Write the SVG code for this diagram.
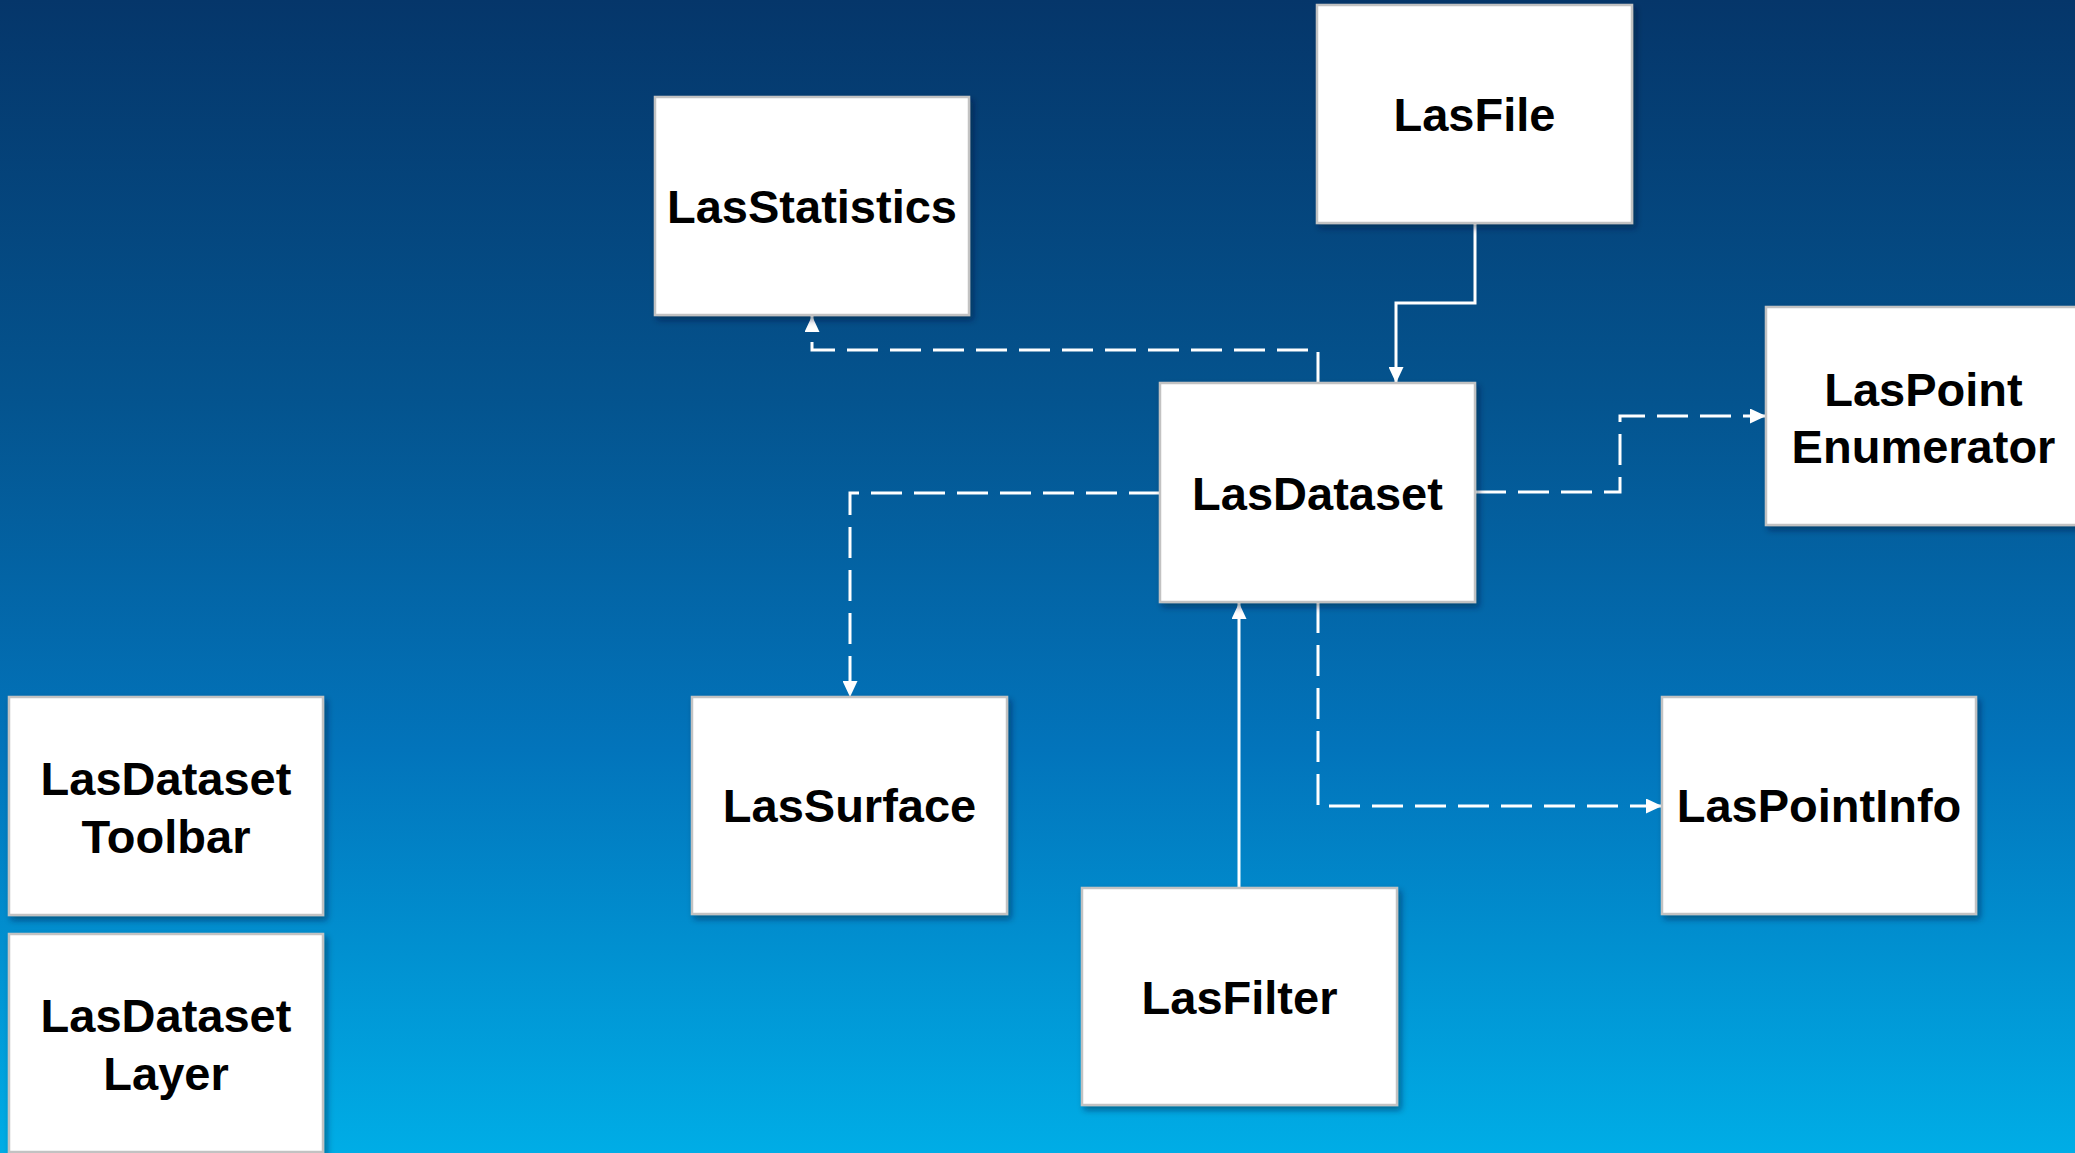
<svg xmlns="http://www.w3.org/2000/svg" width="2075" height="1153" viewBox="0 0 2075 1153">
  <defs>
    <linearGradient id="bg" x1="0" y1="0" x2="0" y2="1">
      <stop offset="0" stop-color="#05366a"/>
      <stop offset="0.35" stop-color="#04548f"/>
      <stop offset="0.65" stop-color="#0274bb"/>
      <stop offset="1" stop-color="#00ade6"/>
    </linearGradient>
    <filter id="shadow" x="-10%" y="-10%" width="125%" height="125%">
      <feDropShadow dx="3" dy="4" stdDeviation="3" flood-color="#001a33" flood-opacity="0.45"/>
    </filter>
    <marker id="arrow" markerUnits="userSpaceOnUse" markerWidth="16" markerHeight="15" refX="16" refY="7.5" orient="auto">
      <path d="M0,0 L16,7.5 L0,15 Z" fill="#ffffff"/>
    </marker>
  </defs>
  <style>
    .box { fill: #ffffff; stroke: #c2c2c2; stroke-width: 2.5; filter: url(#shadow); }
    .label { font-family: "Liberation Sans", Arial, sans-serif; font-weight: bold; font-size: 47px; fill: #000000; text-anchor: middle; }
    .link { fill: none; stroke: #ffffff; stroke-width: 3; marker-end: url(#arrow); }
    .dashed { stroke-dasharray: 31 12; }
  </style>

  <rect x="0" y="0" width="2075" height="1153" fill="url(#bg)"/>

  <!-- connectors -->
  <g id="connectors">
    <path class="link" d="M1475,223 V303 H1396 V383"/>
    <path class="link dashed" d="M1318,383 V350 H812 V316"/>
    <path class="link dashed" d="M1475,492 H1620 V416 H1766"/>
    <path class="link dashed" d="M1160,493 H850 V697"/>
    <path class="link dashed" d="M1318,602 V806 H1662"/>
    <path class="link" d="M1239,888 V603"/>
  </g>

  <!-- nodes -->
  <g id="LasFile">
    <rect class="box" x="1317" y="5" width="315" height="218"/>
    <text class="label" x="1474.5" y="131">LasFile</text>
  </g>
  <g id="LasStatistics">
    <rect class="box" x="655" y="97" width="314" height="218"/>
    <text class="label" x="812" y="223">LasStatistics</text>
  </g>
  <g id="LasDataset">
    <rect class="box" x="1160" y="383" width="315" height="219"/>
    <text class="label" x="1317.5" y="510">LasDataset</text>
  </g>
  <g id="LasPointEnumerator">
    <rect class="box" x="1766" y="307" width="315" height="218"/>
    <text class="label" x="1923.5" y="406">LasPoint</text>
    <text class="label" x="1923.5" y="463">Enumerator</text>
  </g>
  <g id="LasSurface">
    <rect class="box" x="692" y="697" width="315" height="217"/>
    <text class="label" x="849.5" y="822">LasSurface</text>
  </g>
  <g id="LasPointInfo">
    <rect class="box" x="1662" y="697" width="314" height="217"/>
    <text class="label" x="1819" y="822">LasPointInfo</text>
  </g>
  <g id="LasFilter">
    <rect class="box" x="1082" y="888" width="315" height="217"/>
    <text class="label" x="1239.5" y="1014">LasFilter</text>
  </g>
  <g id="LasDatasetToolbar">
    <rect class="box" x="9" y="697" width="314" height="218"/>
    <text class="label" x="166" y="795">LasDataset</text>
    <text class="label" x="166" y="853">Toolbar</text>
  </g>
  <g id="LasDatasetLayer">
    <rect class="box" x="9" y="934" width="314" height="218"/>
    <text class="label" x="166" y="1032">LasDataset</text>
    <text class="label" x="166" y="1090">Layer</text>
  </g>
</svg>
